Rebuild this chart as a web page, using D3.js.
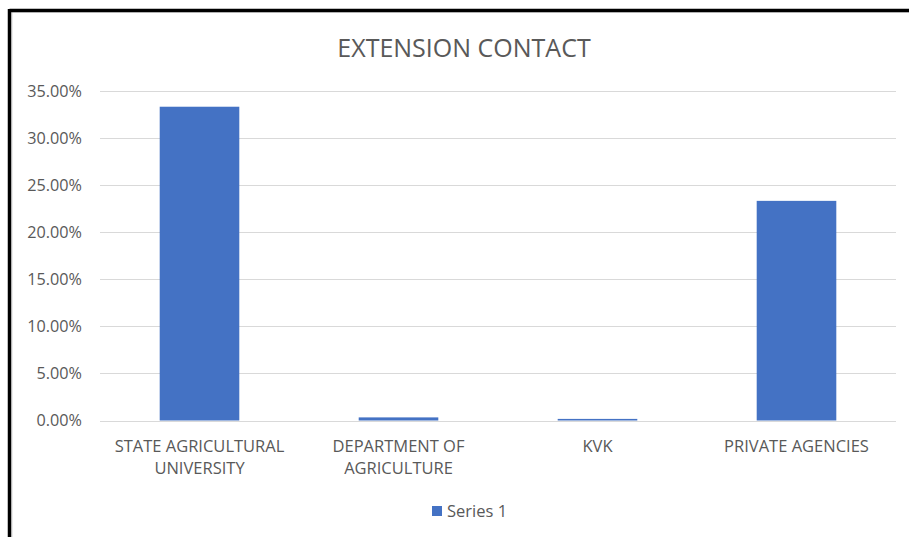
<!DOCTYPE html>
<html>
<head>
<meta charset="utf-8">
<script src="https://cdn.jsdelivr.net/npm/d3@7/dist/d3.min.js"></script>
<style>
  html, body { margin: 0; padding: 0; background: #fff; }
  svg { display: block; }
  text { font-family: "Open Sans", "Liberation Sans", sans-serif; fill: #595959; }
</style>
</head>
<body>
<svg id="chart" width="909" height="537"></svg>
<script>
// Share of respondents by source of extension contact
const categories = [
  ["STATE AGRICULTURAL", "UNIVERSITY"],
  ["DEPARTMENT OF", "AGRICULTURE"],
  ["KVK"],
  ["PRIVATE AGENCIES"]
];
const series1 = [33.33, 0.33, 0.17, 23.33];
const yTicks = [0, 5, 10, 15, 20, 25, 30, 35];
const seriesName = "Series 1";
const chartTitle = "EXTENSION CONTACT";

const svg = d3.select("#chart");
const W = 909, H = 537;
const plot = { left: 100, right: 896, top: 91, bottom: 420.5 };
const barColor = "#4472C4";
const fontStack = '"Open Sans", "Liberation Sans", sans-serif';

// frame: light chart border with a heavy black edge on top and left
svg.append("rect").attr("x", 12).attr("y", 12).attr("width", W + 20).attr("height", H + 20)
  .attr("fill", "#fff").attr("stroke", "#d9d9d9").attr("stroke-width", 1);
svg.append("line").attr("x1", 9.5).attr("y1", 10.5).attr("x2", W).attr("y2", 10.5)
  .attr("stroke", "#000").attr("stroke-width", 3.5);
svg.append("line").attr("x1", 9.5).attr("y1", 9).attr("x2", 9.5).attr("y2", H)
  .attr("stroke", "#000").attr("stroke-width", 3.5);

const x = d3.scaleBand()
  .domain(d3.range(categories.length))
  .range([plot.left, plot.right])
  .paddingInner(0.6)
  .paddingOuter(0.3);

const y = d3.scaleLinear().domain([0, 35]).range([plot.bottom, plot.top]);

// gridlines
svg.append("g")
  .selectAll("line")
  .data(yTicks)
  .join("line")
  .attr("x1", plot.left).attr("x2", plot.right)
  .attr("y1", d => Math.round(y(d)) + 0.5).attr("y2", d => Math.round(y(d)) + 0.5)
  .attr("stroke", "#d9d9d9").attr("stroke-width", 1);

// y axis labels
const yAxis = d3.axisLeft(y).tickValues(yTicks)
  .tickFormat(d => d.toFixed(2) + "%").tickSize(0).tickPadding(0);
const ya = svg.append("g").attr("transform", `translate(${82},0)`).call(yAxis);
ya.select(".domain").remove();
ya.selectAll("text").attr("font-size", 16.2).attr("fill", "#595959")
  .style("font-family", fontStack);

// bars
svg.append("g")
  .selectAll("rect")
  .data(series1)
  .join("rect")
  .attr("x", (d, i) => x(i))
  .attr("width", x.bandwidth())
  .attr("y", d => y(d))
  .attr("height", d => y(0) - y(d))
  .attr("fill", barColor);

// category labels
const xAxis = d3.axisBottom(x).tickSize(0).tickFormat(() => "");
const xa = svg.append("g").attr("transform", `translate(0,${plot.bottom})`).call(xAxis);
xa.select(".domain").remove();
xa.selectAll(".tick").each(function(i) {
  const t = d3.select(this).select("text").text(null)
    .attr("y", 0).attr("dy", null)
    .attr("font-size", 16.5).attr("fill", "#595959")
    .style("font-family", fontStack);
  categories[i].forEach((line, k) => {
    t.append("tspan").attr("x", 0).attr("y", 31 + k * 22).text(line);
  });
});

// title
svg.append("text")
  .attr("x", 464).attr("y", 57)
  .attr("text-anchor", "middle")
  .attr("font-size", 25)
  .text(chartTitle);

// legend
const lg = svg.append("g").attr("transform", "translate(432,506)");
lg.append("rect").attr("width", 10).attr("height", 10).attr("fill", barColor);
lg.append("text").attr("x", 15).attr("y", 10.5).attr("font-size", 16.5).text(seriesName);
</script>
</body>
</html>
